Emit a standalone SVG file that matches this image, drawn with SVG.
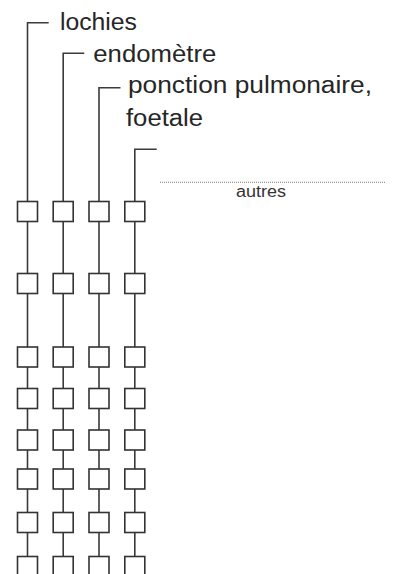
<svg xmlns="http://www.w3.org/2000/svg" width="393" height="574" viewBox="0 0 393 574">
<style>
.ln{stroke:#3a3a3a;stroke-width:1.6;fill:none}
.bx{stroke:#333;stroke-width:1.6;fill:#fff}
.lb{font-family:"Liberation Sans",Arial,sans-serif;font-size:23px;fill:#262626}
.sm{font-family:"Liberation Sans",Arial,sans-serif;font-size:16px;fill:#333}
.dt{stroke:#777;stroke-width:1;stroke-dasharray:1,1;fill:none}
</style>
<defs>
<rect id="sq" x="-10" y="0" width="20" height="20" class="bx"/>
</defs>
<g id="connectors">
<path class="ln" d="M48.7,22.7H27.5V574"/>
<path class="ln" d="M84.3,53.3H63.2V574"/>
<path class="ln" d="M120.5,87.7H99V574"/>
<path class="ln" d="M156.7,149.3H134.8V574"/>
<path class="dt" d="M160,182.3H385"/>
</g>
<g id="label-lochies"><text class="lb" x="60" y="29.5" textLength="77" lengthAdjust="spacingAndGlyphs">lochies</text></g>
<g id="label-endometre"><text class="lb" x="93.3" y="61.7" textLength="123" lengthAdjust="spacingAndGlyphs">endomètre</text></g>
<g id="label-ponction"><text class="lb" x="128" y="92.5" textLength="244" lengthAdjust="spacingAndGlyphs">ponction pulmonaire,</text><text class="lb" x="126" y="125.5" textLength="77" lengthAdjust="spacingAndGlyphs">foetale</text></g>
<g id="label-autres"><text class="sm" x="236" y="196.7" textLength="50" lengthAdjust="spacingAndGlyphs">autres</text></g>
<g id="col1">
<g id="n1-1"><use href="#sq" x="27.5" y="201.5"/></g>
<g id="n1-2"><use href="#sq" x="27.5" y="273.5"/></g>
<g id="n1-3"><use href="#sq" x="27.5" y="347"/></g>
<g id="n1-4"><use href="#sq" x="27.5" y="388.5"/></g>
<g id="n1-5"><use href="#sq" x="27.5" y="430"/></g>
<g id="n1-6"><use href="#sq" x="27.5" y="469"/></g>
<g id="n1-7"><use href="#sq" x="27.5" y="512.5"/></g>
<g id="n1-8"><use href="#sq" x="27.5" y="556.5"/></g>
</g>
<g id="col2">
<g id="n2-1"><use href="#sq" x="63.2" y="201.5"/></g>
<g id="n2-2"><use href="#sq" x="63.2" y="273.5"/></g>
<g id="n2-3"><use href="#sq" x="63.2" y="347"/></g>
<g id="n2-4"><use href="#sq" x="63.2" y="388.5"/></g>
<g id="n2-5"><use href="#sq" x="63.2" y="430"/></g>
<g id="n2-6"><use href="#sq" x="63.2" y="469"/></g>
<g id="n2-7"><use href="#sq" x="63.2" y="512.5"/></g>
<g id="n2-8"><use href="#sq" x="63.2" y="556.5"/></g>
</g>
<g id="col3">
<g id="n3-1"><use href="#sq" x="99" y="201.5"/></g>
<g id="n3-2"><use href="#sq" x="99" y="273.5"/></g>
<g id="n3-3"><use href="#sq" x="99" y="347"/></g>
<g id="n3-4"><use href="#sq" x="99" y="388.5"/></g>
<g id="n3-5"><use href="#sq" x="99" y="430"/></g>
<g id="n3-6"><use href="#sq" x="99" y="469"/></g>
<g id="n3-7"><use href="#sq" x="99" y="512.5"/></g>
<g id="n3-8"><use href="#sq" x="99" y="556.5"/></g>
</g>
<g id="col4">
<g id="n4-1"><use href="#sq" x="134.8" y="201.5"/></g>
<g id="n4-2"><use href="#sq" x="134.8" y="273.5"/></g>
<g id="n4-3"><use href="#sq" x="134.8" y="347"/></g>
<g id="n4-4"><use href="#sq" x="134.8" y="388.5"/></g>
<g id="n4-5"><use href="#sq" x="134.8" y="430"/></g>
<g id="n4-6"><use href="#sq" x="134.8" y="469"/></g>
<g id="n4-7"><use href="#sq" x="134.8" y="512.5"/></g>
<g id="n4-8"><use href="#sq" x="134.8" y="556.5"/></g>
</g>
</svg>
